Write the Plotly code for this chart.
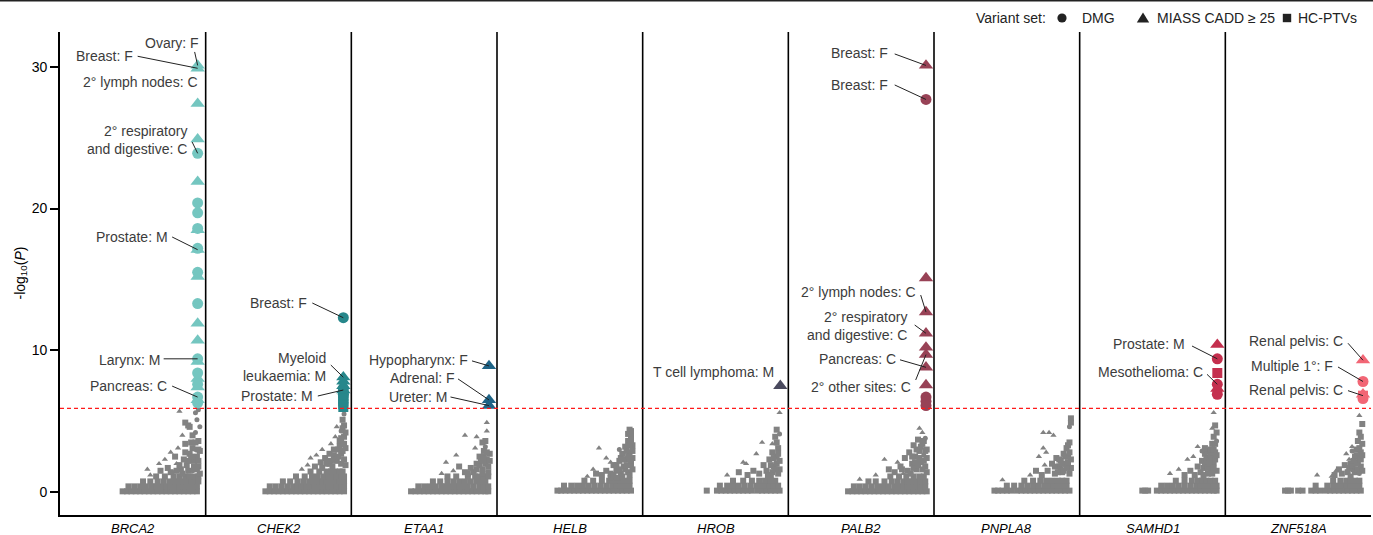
import plotly.graph_objects as go

# ---------------------------------------------------------------- data
genes = ["BRCA2", "CHEK2", "ETAA1", "HELB", "HROB", "PALB2", "PNPLA8", "SAMHD1", "ZNF518A"]

# variant-set codes: d = DMG, m = MIASS CADD >= 25, h = HC-PTVs
set_names = {"d": "DMG", "m": "MIASS CADD ≥ 25", "h": "HC-PTVs"}

sig_threshold = 5.9  # -log10(P) significance line

# significant associations: (-log10 P, variant set)
brca2_hits = [(30.1, "m"), (29.9, "m"), (27.4, "m"), (24.9, "m"), (23.9, "d"), (21.9, "m"),
              (20.4, "d"), (19.7, "d"), (18.5, "m"), (18.6, "d"), (17.1, "m"), (17.2, "d"),
              (15.2, "m"), (15.5, "d"), (13.3, "d"), (11.9, "m"), (10.7, "m"), (9.2, "m"),
              (9.4, "d"), (8.0, "m"), (8.4, "d"), (7.4, "m"), (7.6, "d"), (6.5, "m"),
              (6.7, "d"), (6.3, "d")]
chek2_hits = [(12.3, "d"), (6.0, "h"), (6.2, "h"), (6.4, "h"), (6.6, "h"), (6.8, "h"),
              (7.0, "h"), (6.9, "d"), (7.3, "d"), (7.2, "m"), (7.5, "m"), (7.8, "m"), (8.1, "m")]
etaa1_hits = [(8.9, "m"), (6.5, "m"), (6.1, "m")]
hrob_hits = [(7.5, "m")]
palb2_hits = [(30.1, "m"), (27.7, "d"), (15.1, "m"), (12.7, "m"), (11.2, "m"), (10.2, "m"),
              (9.7, "m"), (8.8, "m"), (7.55, "m"), (6.7, "d"), (6.4, "d"), (6.1, "d")]
samhd1_hits = [(10.4, "m"), (9.4, "d"), (8.4, "h"), (7.3, "m"), (7.6, "d"), (6.9, "d")]
znf518a_hits = [(9.3, "m"), (7.8, "d"), (6.9, "m"), (6.8, "h"), (6.6, "d")]

# labelled associations: gene, -log10 P, cancer site: sex
hit_labels = [
    ("BRCA2", 30.1, "Ovary: F"),
    ("BRCA2", 29.9, "Breast: F"),
    ("BRCA2", 27.4, "2° lymph nodes: C"),
    ("BRCA2", 23.9, "2° respiratory<br>and digestive: C"),
    ("BRCA2", 17.1, "Prostate: M"),
    ("BRCA2", 9.4, "Larynx: M"),
    ("BRCA2", 6.7, "Pancreas: C"),
    ("CHEK2", 12.3, "Breast: F"),
    ("CHEK2", 8.1, "Myeloid<br>leukaemia: M"),
    ("CHEK2", 7.2, "Prostate: M"),
    ("ETAA1", 8.9, "Hypopharynx: F"),
    ("ETAA1", 6.5, "Adrenal: F"),
    ("ETAA1", 6.1, "Ureter: M"),
    ("HROB", 7.5, "T cell lymphoma: M"),
    ("PALB2", 30.1, "Breast: F"),
    ("PALB2", 27.7, "Breast: F"),
    ("PALB2", 12.7, "2° lymph nodes: C"),
    ("PALB2", 11.2, "2° respiratory<br>and digestive: C"),
    ("PALB2", 8.8, "Pancreas: C"),
    ("PALB2", 9.7, "2° other sites: C"),
    ("SAMHD1", 9.4, "Prostate: M"),
    ("SAMHD1", 7.6, "Mesothelioma: C"),
    ("ZNF518A", 9.3, "Renal pelvis: C"),
    ("ZNF518A", 7.8, "Multiple 1°: F"),
    ("ZNF518A", 6.8, "Renal pelvis: C"),
]

# non-significant tests. Dense bulk: (-log10 P, [expected rank positions within gene]) - HC-PTVs
# sparse tail: (expected position, -log10 P, variant set)
brca2_bulk = [
    (0.05, [0.43, 0.46, 0.49, 0.52, 0.55, 0.58, 0.61, 0.64, 0.67, 0.70, 0.73, 0.76, 0.79, 0.82, 0.85, 0.88, 0.91, 0.94]),
    (0.40, [0.47, 0.51, 0.55, 0.59, 0.63, 0.66, 0.70, 0.73, 0.76, 0.79, 0.82, 0.85, 0.88, 0.91, 0.94]),
    (0.75, [0.57, 0.62, 0.67, 0.71, 0.75, 0.78, 0.81, 0.84, 0.87, 0.90, 0.93, 0.95]),
    (1.10, [0.66, 0.72, 0.78, 0.82, 0.86, 0.89, 0.92, 0.95]),
]
brca2_tail = [
    (0.62, 1.2, "m"), (0.69, 1.5, "h"), (0.74, 1.7, "h"), (0.77, 1.4, "d"), (0.80, 2.0, "m"),
    (0.83, 1.6, "h"), (0.85, 2.3, "h"), (0.87, 1.9, "h"), (0.89, 2.7, "h"), (0.91, 1.5, "d"),
    (0.92, 2.2, "h"), (0.93, 3.0, "d"), (0.94, 2.5, "h"), (0.95, 1.8, "h"), (0.72, 2.3, "m"),
    (0.76, 2.8, "m"), (0.81, 3.1, "m"), (0.84, 4.0, "m"), (0.86, 3.4, "h"), (0.86, 4.9, "h"),
    (0.88, 4.7, "h"), (0.93, 4.2, "d"), (0.94, 5.1, "d"), (0.95, 3.6, "h"), (0.96, 4.6, "d"),
    (0.93, 5.6, "d"), (0.82, 5.7, "m"), (0.95, 5.8, "d"), (0.96, 2.9, "h"), (0.96, 1.3, "h"),
    (0.60, 1.6, "m"), (0.68, 2.0, "m"), (0.90, 3.5, "h"), (0.79, 2.5, "h"), (0.89, 4.6, "h"),
    (0.84, 1.3, "h"), (0.86, 2.8, "h"), (0.88, 2.2, "h"), (0.90, 2.5, "h"), (0.91, 3.1, "h"),
    (0.92, 1.8, "h"), (0.93, 3.5, "h"), (0.94, 1.6, "h"), (0.88, 1.5, "h"), (0.82, 1.9, "h"),
    (0.80, 1.5, "h"), (0.95, 2.2, "h"), (0.95, 3.0, "h"), (0.91, 4.0, "h"), (0.76, 1.4, "h"),
]
chek2_bulk = [
    (0.05, [0.41, 0.44, 0.47, 0.50, 0.53, 0.56, 0.59, 0.62, 0.65, 0.68, 0.71, 0.74, 0.77, 0.80, 0.83, 0.86, 0.89, 0.92, 0.95]),
    (0.40, [0.44, 0.48, 0.52, 0.56, 0.60, 0.63, 0.66, 0.69, 0.72, 0.75, 0.78, 0.81, 0.84, 0.87, 0.90, 0.93, 0.95]),
    (0.75, [0.53, 0.58, 0.63, 0.67, 0.71, 0.74, 0.77, 0.80, 0.83, 0.86, 0.89, 0.92, 0.95]),
    (1.10, [0.62, 0.68, 0.73, 0.77, 0.81, 0.84, 0.87, 0.90, 0.93, 0.95]),
    (1.45, [0.72, 0.78, 0.83, 0.86, 0.89, 0.92, 0.94]),
]
chek2_tail = [
    (0.66, 1.6, "m"), (0.70, 1.9, "m"), (0.75, 1.8, "h"), (0.79, 2.1, "h"), (0.82, 2.4, "h"),
    (0.85, 2.0, "h"), (0.88, 2.6, "h"), (0.90, 2.2, "h"), (0.91, 3.0, "h"), (0.93, 2.7, "h"),
    (0.95, 2.3, "h"), (0.94, 3.4, "h"), (0.95, 3.9, "h"), (0.93, 4.3, "d"), (0.95, 4.7, "h"),
    (0.94, 5.1, "h"), (0.95, 5.5, "d"), (0.96, 5.8, "d"), (0.76, 2.6, "m"), (0.80, 3.0, "m"),
    (0.86, 3.4, "m"), (0.89, 3.9, "m"), (0.92, 3.6, "h"), (0.96, 3.1, "h"), (0.96, 1.9, "h"),
    (0.72, 2.4, "m"), (0.90, 4.6, "m"),
    (0.80, 1.7, "h"), (0.83, 2.0, "h"), (0.86, 2.2, "h"), (0.87, 1.8, "h"), (0.89, 2.3, "h"),
    (0.91, 2.5, "h"), (0.92, 3.2, "h"), (0.93, 2.0, "h"), (0.94, 2.9, "h"), (0.95, 3.4, "h"),
    (0.96, 4.2, "h"), (0.94, 4.5, "h"), (0.93, 3.8, "h"), (0.85, 2.7, "h"), (0.88, 3.0, "h"),
]
etaa1_bulk = [
    (0.05, [0.41, 0.44, 0.47, 0.50, 0.53, 0.56, 0.59, 0.62, 0.65, 0.68, 0.71, 0.74, 0.77, 0.80, 0.83, 0.86, 0.89, 0.92, 0.94]),
    (0.40, [0.46, 0.50, 0.54, 0.58, 0.62, 0.65, 0.68, 0.71, 0.74, 0.77, 0.80, 0.84, 0.88, 0.91, 0.94]),
    (0.75, [0.56, 0.61, 0.66, 0.70, 0.74, 0.78, 0.82, 0.86, 0.89, 0.92]),
    (1.10, [0.66, 0.72, 0.80, 0.85, 0.88, 0.91, 0.94]),
]
etaa1_tail = [
    (0.62, 1.3, "m"), (0.65, 2.1, "m"), (0.70, 1.5, "m"), (0.74, 1.8, "h"), (0.78, 1.4, "h"),
    (0.82, 1.7, "h"), (0.86, 2.0, "h"), (0.88, 2.5, "h"), (0.90, 1.6, "h"), (0.91, 2.9, "h"),
    (0.90, 3.5, "h"), (0.93, 2.3, "h"), (0.94, 1.4, "h"), (0.78, 4.0, "m"), (0.86, 3.9, "m"),
    (0.85, 3.1, "m"), (0.93, 4.9, "m"), (0.93, 4.3, "m"), (0.92, 3.2, "d"), (0.72, 2.6, "m"),
    (0.95, 2.7, "h"),
    (0.84, 1.4, "h"), (0.86, 1.6, "h"), (0.88, 1.9, "h"), (0.89, 2.2, "h"), (0.90, 1.3, "h"),
    (0.91, 2.5, "h"), (0.92, 2.0, "h"), (0.93, 2.8, "h"), (0.94, 1.8, "h"), (0.95, 2.2, "h"),
    (0.92, 3.6, "h"), (0.80, 1.3, "h"),
]
helb_bulk = [
    (0.10, [0.415, 0.44, 0.47, 0.50, 0.53, 0.56, 0.59, 0.62, 0.65, 0.68, 0.71, 0.74, 0.77, 0.80, 0.83, 0.86, 0.89, 0.92]),
    (0.45, [0.46, 0.51, 0.55, 0.59, 0.63, 0.67, 0.71, 0.75, 0.79, 0.82, 0.85, 0.88, 0.91]),
    (0.80, [0.60, 0.66, 0.72, 0.77, 0.81, 0.85, 0.88, 0.91]),
]
helb_tail = [
    (0.62, 1.1, "m"), (0.68, 1.3, "h"), (0.72, 1.2, "h"), (0.75, 1.5, "h"), (0.78, 1.3, "h"),
    (0.80, 1.9, "h"), (0.82, 1.5, "h"), (0.84, 2.2, "h"), (0.85, 1.3, "h"), (0.86, 2.7, "h"),
    (0.87, 1.8, "h"), (0.88, 3.2, "h"), (0.89, 2.3, "h"), (0.90, 1.4, "h"), (0.90, 3.6, "h"),
    (0.91, 2.8, "h"), (0.92, 4.0, "h"), (0.92, 1.9, "h"), (0.93, 3.3, "h"), (0.91, 4.4, "h"),
    (0.70, 3.1, "m"), (0.75, 2.4, "m"), (0.66, 1.6, "m"), (0.78, 2.1, "m"), (0.84, 3.0, "d"),
    (0.93, 2.4, "h"),
    (0.78, 1.0, "h"), (0.80, 1.2, "h"), (0.82, 1.9, "h"), (0.83, 1.0, "h"), (0.84, 1.6, "h"),
    (0.85, 2.4, "h"), (0.86, 1.1, "h"), (0.87, 2.3, "h"), (0.88, 1.6, "h"), (0.89, 2.9, "h"),
    (0.89, 1.9, "h"), (0.90, 2.5, "h"), (0.91, 1.2, "h"), (0.91, 3.3, "h"), (0.92, 2.2, "h"),
    (0.92, 3.6, "h"), (0.93, 2.9, "h"), (0.93, 1.6, "h"), (0.92, 4.3, "h"), (0.90, 4.1, "h"),
]
hrob_bulk = [
    (0.10, [0.44, 0.51, 0.54, 0.57, 0.60, 0.63, 0.66, 0.69, 0.72, 0.75, 0.79, 0.82, 0.85, 0.88, 0.91, 0.94]),
    (0.45, [0.53, 0.58, 0.62, 0.66, 0.70, 0.74, 0.78, 0.81, 0.84, 0.87, 0.90, 0.93]),
    (0.80, [0.62, 0.69, 0.75, 0.80, 0.84, 0.88, 0.91]),
]
hrob_tail = [
    (0.58, 1.2, "m"), (0.69, 2.1, "m"), (0.71, 2.0, "m"), (0.78, 2.7, "m"), (0.82, 3.5, "m"),
    (0.89, 3.4, "m"), (0.94, 5.6, "m"), (0.72, 1.2, "h"), (0.76, 1.5, "h"), (0.80, 1.3, "h"),
    (0.83, 1.9, "h"), (0.85, 1.5, "h"), (0.87, 2.3, "h"), (0.88, 1.2, "h"), (0.89, 2.8, "h"),
    (0.90, 1.8, "h"), (0.91, 3.9, "h"), (0.92, 4.4, "h"), (0.92, 2.5, "h"), (0.93, 3.1, "h"),
    (0.94, 1.6, "h"), (0.94, 4.1, "d"), (0.66, 1.4, "h"),
    (0.86, 1.2, "h"), (0.88, 1.9, "h"), (0.89, 1.4, "h"), (0.90, 2.4, "h"), (0.91, 1.6, "h"),
    (0.92, 2.0, "h"), (0.93, 2.7, "h"), (0.94, 2.2, "h"), (0.92, 3.5, "h"), (0.93, 1.3, "h"),
]
palb2_bulk = [
    (0.05, [0.41, 0.44, 0.47, 0.50, 0.53, 0.56, 0.59, 0.62, 0.65, 0.68, 0.71, 0.74, 0.77, 0.80, 0.83, 0.86, 0.89, 0.92, 0.95]),
    (0.40, [0.45, 0.49, 0.53, 0.57, 0.61, 0.65, 0.69, 0.73, 0.76, 0.79, 0.82, 0.85, 0.88, 0.91, 0.94]),
    (0.75, [0.55, 0.60, 0.66, 0.71, 0.75, 0.79, 0.82, 0.85, 0.88, 0.91, 0.94]),
    (1.10, [0.70, 0.76, 0.81, 0.86, 0.90, 0.93]),
]
palb2_tail = [
    (0.49, 0.9, "m"), (0.60, 1.2, "m"), (0.66, 2.3, "m"), (0.69, 1.6, "h"), (0.73, 1.4, "h"),
    (0.75, 2.1, "m"), (0.77, 1.8, "h"), (0.80, 2.4, "h"), (0.82, 1.5, "h"), (0.83, 2.8, "h"),
    (0.85, 2.0, "h"), (0.86, 3.3, "h"), (0.87, 2.5, "h"), (0.88, 1.6, "h"), (0.89, 3.7, "h"),
    (0.90, 2.9, "h"), (0.91, 2.1, "h"), (0.92, 3.4, "h"), (0.93, 2.6, "d"), (0.94, 1.8, "h"),
    (0.95, 3.0, "h"), (0.95, 1.4, "h"), (0.90, 4.5, "m"), (0.92, 4.2, "m"), (0.94, 3.8, "d"),
    (0.79, 1.3, "m"),
    (0.84, 1.3, "h"), (0.85, 2.5, "h"), (0.86, 1.7, "h"), (0.87, 2.1, "h"), (0.88, 3.0, "h"),
    (0.89, 1.9, "h"), (0.90, 2.4, "h"), (0.91, 3.2, "h"), (0.92, 1.6, "h"), (0.93, 2.2, "h"),
    (0.94, 2.9, "h"), (0.95, 2.4, "h"), (0.93, 3.6, "h"), (0.78, 1.6, "h"),
]
pnpla8_bulk = [
    (0.10, [0.415, 0.44, 0.47, 0.50, 0.53, 0.57, 0.60, 0.63, 0.66, 0.69, 0.72, 0.75, 0.78, 0.81, 0.84, 0.87, 0.90, 0.93]),
    (0.45, [0.50, 0.55, 0.60, 0.64, 0.68, 0.72, 0.76, 0.79, 0.82, 0.85, 0.88, 0.91]),
    (0.80, [0.62, 0.68, 0.73, 0.77, 0.81, 0.85, 0.88, 0.91]),
]
pnpla8_tail = [
    (0.47, 0.85, "m"), (0.66, 1.2, "m"), (0.70, 1.5, "h"), (0.74, 1.2, "h"), (0.76, 1.9, "m"),
    (0.78, 1.5, "h"), (0.81, 2.0, "h"), (0.83, 1.3, "h"), (0.84, 2.4, "h"), (0.86, 1.8, "h"),
    (0.87, 2.2, "h"), (0.88, 1.4, "h"), (0.89, 2.7, "h"), (0.90, 2.0, "h"), (0.91, 3.1, "h"),
    (0.92, 2.5, "h"), (0.93, 3.5, "h"), (0.94, 1.7, "h"), (0.72, 2.5, "m"), (0.75, 3.1, "m"),
    (0.75, 4.2, "m"), (0.79, 4.2, "m"), (0.82, 4.0, "m"), (0.77, 2.8, "m"), (0.94, 4.9, "h"),
    (0.94, 5.2, "h"), (0.93, 4.6, "d"),
    (0.83, 1.8, "h"), (0.85, 1.4, "h"), (0.86, 2.3, "h"), (0.87, 1.6, "h"), (0.88, 2.0, "h"),
    (0.89, 1.5, "h"), (0.90, 2.5, "h"), (0.91, 1.7, "h"), (0.92, 2.1, "h"), (0.93, 2.8, "h"),
    (0.94, 2.3, "h"), (0.93, 1.3, "h"), (0.92, 3.3, "h"),
]
samhd1_bulk = [
    (0.10, [0.43, 0.45, 0.47, 0.53, 0.56, 0.59, 0.62, 0.65, 0.68, 0.71, 0.74, 0.77, 0.80, 0.83, 0.86, 0.89, 0.92, 0.94]),
    (0.45, [0.56, 0.60, 0.64, 0.68, 0.72, 0.76, 0.80, 0.83, 0.86, 0.89, 0.92, 0.94]),
    (0.80, [0.66, 0.72, 0.77, 0.81, 0.84, 0.87, 0.90, 0.93]),
]
samhd1_tail = [
    (0.62, 1.3, "m"), (0.68, 1.6, "m"), (0.74, 2.3, "m"), (0.78, 2.5, "m"), (0.81, 3.2, "m"),
    (0.91, 4.5, "m"), (0.92, 5.6, "m"), (0.72, 1.2, "h"), (0.76, 1.5, "h"), (0.79, 1.2, "h"),
    (0.81, 1.8, "h"), (0.83, 1.4, "h"), (0.84, 2.2, "h"), (0.85, 1.7, "h"), (0.86, 2.7, "h"),
    (0.87, 2.0, "h"), (0.88, 1.3, "h"), (0.89, 2.9, "h"), (0.89, 2.4, "h"), (0.90, 1.7, "h"),
    (0.91, 3.4, "h"), (0.92, 2.1, "h"), (0.92, 3.9, "h"), (0.93, 4.7, "h"), (0.93, 2.8, "h"),
    (0.94, 1.5, "h"), (0.94, 3.6, "d"), (0.86, 3.1, "h"), (0.84, 2.9, "d"),
    (0.85, 1.2, "h"), (0.86, 1.9, "h"), (0.87, 2.4, "h"), (0.88, 1.7, "h"), (0.89, 2.0, "h"),
    (0.90, 2.6, "h"), (0.90, 3.0, "h"), (0.91, 1.3, "h"), (0.91, 2.4, "h"), (0.92, 1.7, "h"),
    (0.92, 3.0, "h"), (0.93, 2.3, "h"), (0.93, 3.4, "h"), (0.94, 2.6, "h"), (0.94, 4.2, "h"),
]
znf518a_bulk = [
    (0.10, [0.41, 0.43, 0.45, 0.50, 0.53, 0.59, 0.62, 0.65, 0.69, 0.72, 0.75, 0.78, 0.81, 0.84, 0.87, 0.90, 0.93]),
    (0.45, [0.62, 0.70, 0.74, 0.77, 0.80, 0.83, 0.86, 0.89, 0.92]),
    (0.80, [0.74, 0.79, 0.83, 0.86, 0.89, 0.92]),
]
znf518a_tail = [
    (0.63, 1.2, "m"), (0.73, 1.1, "m"), (0.76, 1.5, "m"), (0.83, 2.7, "m"), (0.85, 2.3, "m"),
    (0.87, 3.2, "m"), (0.92, 5.4, "m"), (0.75, 1.2, "h"), (0.78, 1.6, "h"), (0.80, 1.3, "h"),
    (0.82, 1.9, "h"), (0.84, 1.4, "h"), (0.86, 2.0, "h"), (0.88, 1.6, "h"), (0.89, 2.5, "h"),
    (0.90, 3.0, "h"), (0.91, 2.1, "h"), (0.91, 3.6, "h"), (0.92, 4.2, "h"), (0.93, 1.8, "h"),
    (0.93, 2.8, "h"), (0.94, 3.4, "h"), (0.94, 4.8, "h"), (0.92, 1.3, "d"), (0.87, 2.9, "d"),
    (0.85, 1.7, "h"), (0.86, 1.1, "h"), (0.87, 1.9, "h"), (0.88, 2.2, "h"), (0.89, 1.4, "h"),
    (0.90, 2.0, "h"), (0.90, 2.6, "h"), (0.91, 1.6, "h"), (0.92, 2.4, "h"), (0.92, 3.1, "h"),
    (0.93, 2.3, "h"), (0.93, 3.9, "h"), (0.94, 1.5, "h"), (0.94, 2.6, "h"),
]

significant = {
    "BRCA2": brca2_hits, "CHEK2": chek2_hits, "ETAA1": etaa1_hits, "HROB": hrob_hits,
    "PALB2": palb2_hits, "SAMHD1": samhd1_hits, "ZNF518A": znf518a_hits,
}
background = {
    "BRCA2": (brca2_bulk, brca2_tail), "CHEK2": (chek2_bulk, chek2_tail),
    "ETAA1": (etaa1_bulk, etaa1_tail), "HELB": (helb_bulk, helb_tail),
    "HROB": (hrob_bulk, hrob_tail), "PALB2": (palb2_bulk, palb2_tail),
    "PNPLA8": (pnpla8_bulk, pnpla8_tail), "SAMHD1": (samhd1_bulk, samhd1_tail),
    "ZNF518A": (znf518a_bulk, znf518a_tail),
}

# ---------------------------------------------------------------- style
W, H = 1373, 535
MARGIN = dict(l=60, r=2, t=32, b=20)
PW = W - MARGIN["l"] - MARGIN["r"]
PH = H - MARGIN["t"] - MARGIN["b"]
FONT = "Liberation Sans, Arial, Helvetica, sans-serif"
TEXT_COL = "#3c3c3c"
GREY = "#828282"
KEY_COL = "#222222"
HIT_X = 0.945  # position of significant hits inside a gene column

gene_colors = {
    "BRCA2": "#74C6C0", "CHEK2": "#27878B", "ETAA1": "#1E6386", "HROB": "#4A4A5E",
    "PALB2": "#984256", "SAMHD1": "#C42F4E", "ZNF518A": "#F26675",
}
symbols = {"d": "circle", "m": "triangle-up", "h": "square"}
hit_size = {"d": 11, "m": 12.5, "h": 10}
grey_size = {"d": 5, "m": 5.5, "h": 6}

# label placement (pixels from the hit): text right edge dx, text middle dy,
# leader-line start (dx, dy) or None
label_place = [
    (3, 22.5, (-3, 13.5)),
    (-63, 12.3, (-60, 12)),
    (2, 21.7, None),
    (-9, 13.8, (-5.5, 11.3)),
    (-28, 12.7, (-25.5, 12.7)),
    (-36, -1.2, (-34, 0)),
    (-29, 11.3, (-25.5, 11)),
    (-34.5, 14.7, (-31, 14.7)),
    (-15.5, 10.2, (-12.5, 12.2)),
    (-28.5, -5.7, (-25.5, -6)),
    (-19, 5.9, (-17, 5)),
    (-32, 21.9, (-31, 21)),
    (-40, 8.6, (-38.5, 8.6)),
    (-4, 13.7, None),
    (-35.5, 12.2, (-31.3, 11.5)),
    (-35.5, 14.5, (-31.3, 14.5)),
    (-7.5, 20.3, (-5.3, 17)),
    (-16.5, 7.3, (-11.3, 8.3)),
    (-27.5, 8, (-26, 7.5)),
    (-12.5, -32.7, (-10.3, -25.4)),
    (-30.5, 14.8, (-25.3, 12.8)),
    (-12.5, 12.3, (-10.3, 10)),
    (-18, 19.2, (-15, 17)),
    (-28, 15.5, (-25, 14.5)),
    (-18, 5.8, (-15, 5)),
]


def paper_x(px):
    return (px - MARGIN["l"]) / PW


def paper_y(py):
    return (H - MARGIN["b"] - py) / PH


fig = go.Figure()

# background (non-significant) tests
for code in ["h", "m", "d"]:
    xs, ys = [], []
    for i, g in enumerate(genes):
        bulk, tail = background[g]
        if code == "h":
            for y, row in bulk:
                xs += [i + v for v in row]
                ys += [y] * len(row)
        for lx, y, s in tail:
            if s == code:
                xs.append(i + lx)
                ys.append(y)
    fig.add_trace(go.Scatter(
        x=xs, y=ys, mode="markers", showlegend=False, hoverinfo="skip",
        marker=dict(symbol=symbols[code], size=grey_size[code], color=GREY,
                    opacity=1, line=dict(width=0)),
    ))

# significant associations
for i, g in enumerate(genes):
    hits = significant.get(g)
    if not hits:
        continue
    fig.add_trace(go.Scatter(
        x=[i + HIT_X] * len(hits), y=[h[0] for h in hits], mode="markers",
        showlegend=False, name=g,
        text=[set_names[h[1]] for h in hits],
        marker=dict(symbol=[symbols[h[1]] for h in hits], size=[hit_size[h[1]] for h in hits],
                    color=gene_colors[g], opacity=1, line=dict(width=0)),
    ))

shapes = []
# gene column separators
for i in range(1, len(genes)):
    shapes.append(dict(type="line", xref="x", yref="paper", x0=i, x1=i, y0=0, y1=1,
                       line=dict(color="black", width=1.6)))
# significance threshold
shapes.append(dict(type="line", xref="x", yref="y", x0=0, x1=len(genes), y0=sig_threshold,
                   y1=sig_threshold, line=dict(color="#ff1a1a", width=1.2, dash="4px,3px")))
# rule across the top of the figure
shapes.append(dict(type="line", xref="paper", yref="paper", x0=paper_x(0), x1=paper_x(W),
                   y0=paper_y(0.7), y1=paper_y(0.7), line=dict(color="#222", width=1.5)))

annotations = []
for (g, yv, txt), (tx, ty, lead) in zip(hit_labels, label_place):
    gx = genes.index(g) + HIT_X
    annotations.append(dict(
        x=gx, y=yv, xref="x", yref="y", text=txt, showarrow=False,
        xanchor="right", yanchor="middle", align="right", xshift=tx, yshift=ty,
        font=dict(family=FONT, size=14, color=TEXT_COL),
    ))
    if lead is not None:
        shapes.append(dict(
            type="line", xref="x", yref="y", xsizemode="pixel", ysizemode="pixel",
            xanchor=gx, yanchor=yv, x0=lead[0], y0=lead[1], x1=0, y1=0,
            line=dict(color="#222", width=1),
        ))

# gene names under each column
for i, g in enumerate(genes):
    annotations.append(dict(
        x=i + 0.5, y=0, xref="x", yref="paper", text=f"<i>{g}</i>", showarrow=False,
        xanchor="center", yanchor="middle", yshift=-13,
        font=dict(family=FONT, size=13, color="black"),
    ))

# y-axis title
annotations.append(dict(
    xref="paper", yref="paper", x=paper_x(20), y=0.5, xanchor="center", yanchor="middle",
    text="-log<sub>10</sub>(<i>P</i>)", textangle=-90, showarrow=False,
    font=dict(family=FONT, size=14, color="black"),
))

# variant-set key: text entries and their marker glyphs
key_y = paper_y(18)
key_texts = [(974, "Variant set:"), (1080, set_names["d"]), (1155, set_names["m"]),
             (1296, set_names["h"])]
for px, txt in key_texts:
    annotations.append(dict(
        xref="paper", yref="paper", x=paper_x(px), y=key_y, text=txt, showarrow=False,
        xanchor="left", yanchor="middle", font=dict(family=FONT, size=14, color=KEY_COL),
    ))
key_glyph = dict(xref="paper", yref="paper", xsizemode="pixel", ysizemode="pixel",
                 yanchor=key_y, fillcolor=KEY_COL, line=dict(width=0))
shapes.append(dict(key_glyph, type="circle", xanchor=paper_x(1062),
                   x0=-4.6, x1=4.6, y0=-4.6, y1=4.6))
shapes.append(dict(key_glyph, type="path", xanchor=paper_x(1143),
                   path="M -6.2,-4.6 L 6.2,-4.6 L 0,5.6 Z"))
shapes.append(dict(key_glyph, type="rect", xanchor=paper_x(1287),
                   x0=-4.2, x1=4.2, y0=-4.2, y1=4.2))

fig.update_layout(
    width=W, height=H, margin=MARGIN,
    paper_bgcolor="white", plot_bgcolor="white",
    font=dict(family=FONT, size=14, color="black"),
    shapes=shapes, annotations=annotations,
    xaxis=dict(
        range=[0, len(genes)], showgrid=False, zeroline=False, showline=True,
        linecolor="black", linewidth=1.6, ticks="", showticklabels=False,
    ),
    yaxis=dict(
        range=[-1.62, 32.46], showgrid=False, zeroline=False, showline=True,
        linecolor="black", linewidth=1.6, ticks="outside", ticklen=8, tickwidth=1.5,
        tickcolor="black", tickvals=[0, 10, 20, 30],
        tickfont=dict(family=FONT, size=14, color="black"),
    ),
)

fig.write_html("out.html")
